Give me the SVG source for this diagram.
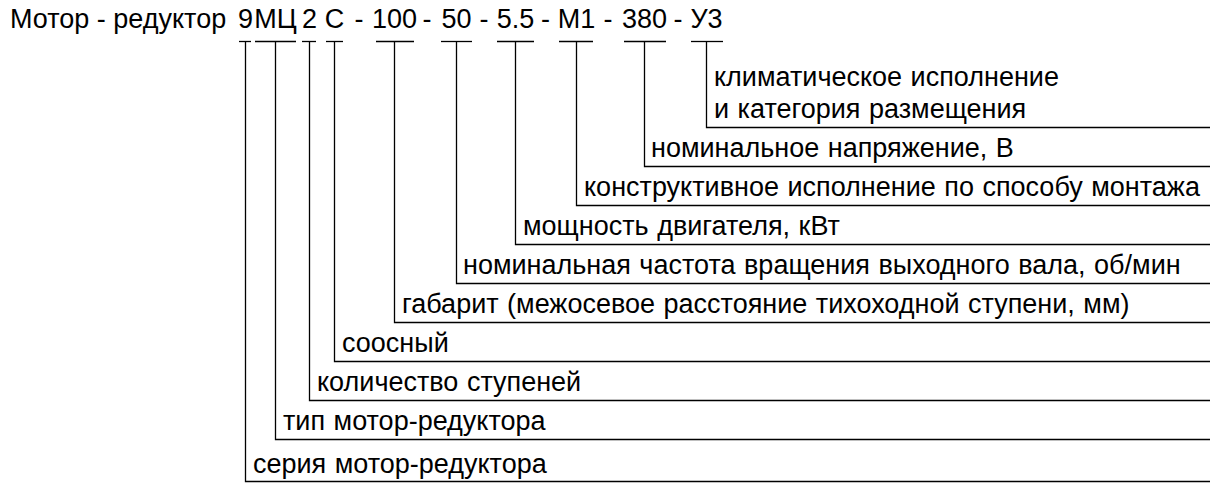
<svg xmlns="http://www.w3.org/2000/svg" width="1230" height="493" viewBox="0 0 1230 493">
<style>
text{font-family:"Liberation Sans",Arial,sans-serif;font-size:27px;fill:#000}
.lbl{word-spacing:1px}
.t{text-anchor:middle}
.c line,.c polyline{stroke:#000;stroke-width:1.3;fill:none}
</style>
<rect width="1230" height="493" fill="#fff"/>
<g id="title">
<text x="10" y="28">Мотор - редуктор</text>
<text class="t" x="245.5" y="28">9</text>
<text class="t" x="275.5" y="28">МЦ</text>
<text class="t" x="309.5" y="28">2</text>
<text class="t" x="334.5" y="28">С</text>
<text class="t" x="359" y="28">-</text>
<text class="t" x="394.5" y="28">100</text>
<text class="t" x="427" y="28">-</text>
<text class="t" x="456.5" y="28">50</text>
<text class="t" x="484" y="28">-</text>
<text class="t" x="515.5" y="28">5.5</text>
<text class="t" x="545.5" y="28">-</text>
<text class="t" x="576.5" y="28">М1</text>
<text class="t" x="608" y="28">-</text>
<text class="t" x="644.5" y="28">380</text>
<text class="t" x="678" y="28">-</text>
<text class="t" x="706.5" y="28">У3</text>
</g>
<g class="c" id="connectors">
<line x1="239" y1="41.5" x2="251" y2="41.5"/>
<line x1="255" y1="41.5" x2="296" y2="41.5"/>
<line x1="302" y1="41.5" x2="316" y2="41.5"/>
<line x1="326" y1="41.5" x2="343" y2="41.5"/>
<line x1="376" y1="41.5" x2="414" y2="41.5"/>
<line x1="441" y1="41.5" x2="472" y2="41.5"/>
<line x1="497" y1="41.5" x2="534" y2="41.5"/>
<line x1="559" y1="41.5" x2="593" y2="41.5"/>
<line x1="624" y1="41.5" x2="666" y2="41.5"/>
<line x1="691" y1="41.5" x2="723" y2="41.5"/>
<polyline points="706.5,41.5 706.5,127.5 1210,127.5"/>
<polyline points="644.5,41.5 644.5,166.5 1210,166.5"/>
<polyline points="576.5,41.5 576.5,205.5 1210,205.5"/>
<polyline points="515.5,41.5 515.5,244.5 1210,244.5"/>
<polyline points="456.5,41.5 456.5,283.5 1210,283.5"/>
<polyline points="394.5,41.5 394.5,322.5 1210,322.5"/>
<polyline points="334.5,41.5 334.5,361.5 1210,361.5"/>
<polyline points="309.5,41.5 309.5,400.5 1210,400.5"/>
<polyline points="275.5,41.5 275.5,439.5 1210,439.5"/>
<polyline points="245.5,41.5 245.5,481.5 1210,481.5"/>
</g>
<g id="n-climate"><text class="lbl" x="714" y="86">климатическое исполнение</text><text class="lbl" x="714" y="118">и категория размещения</text></g>
<g id="n-voltage"><text class="lbl" x="651" y="157">номинальное напряжение, В</text></g>
<g id="n-mount"><text class="lbl" x="584" y="196">конструктивное исполнение по способу монтажа</text></g>
<g id="n-power"><text class="lbl" x="523" y="235">мощность двигателя, кВт</text></g>
<g id="n-speed"><text class="lbl" x="463" y="274">номинальная частота вращения выходного вала, об/мин</text></g>
<g id="n-size"><text class="lbl" x="402" y="313">габарит (межосевое расстояние тихоходной ступени, мм)</text></g>
<g id="n-coax"><text class="lbl" x="342" y="352">соосный</text></g>
<g id="n-stages"><text class="lbl" x="317" y="391">количество ступеней</text></g>
<g id="n-type"><text class="lbl" x="283" y="430">тип мотор-редуктора</text></g>
<g id="n-series"><text class="lbl" x="253" y="473">серия мотор-редуктора</text></g>
</svg>
